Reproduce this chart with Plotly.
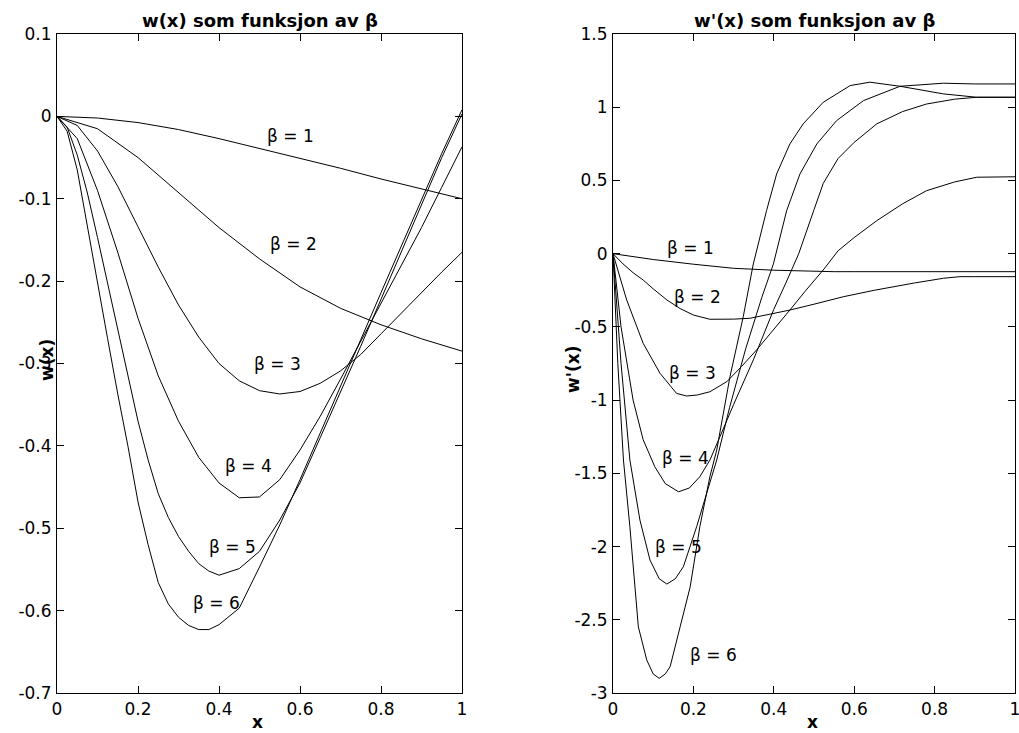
import plotly.graph_objects as go

# ---------------- data: left panel  w(x) ----------------
w_x_coarse = [0, 0.1, 0.2, 0.3, 0.4, 0.5, 0.6, 0.7, 0.8, 0.9, 1.0]
w_b1 = [0, -0.002, -0.0075, -0.016, -0.027, -0.039, -0.051, -0.063, -0.076, -0.088, -0.1]
w_b2 = [0, -0.015, -0.05, -0.093, -0.135, -0.173, -0.207, -0.233, -0.253, -0.27, -0.285]

w_x_mid = [0, 0.05, 0.1, 0.15, 0.2, 0.25, 0.3, 0.35, 0.4, 0.45, 0.5,
           0.55, 0.6, 0.65, 0.7, 0.75, 0.8, 0.85, 0.9, 0.95, 1.0]
w_b3 = [0, -0.011, -0.042, -0.085, -0.134, -0.183, -0.229, -0.268, -0.3, -0.321, -0.333,
        -0.337, -0.334, -0.324, -0.309, -0.289, -0.264, -0.239, -0.213, -0.189, -0.165]
w_b4 = [0, -0.027, -0.09, -0.165, -0.245, -0.315, -0.37, -0.414, -0.445, -0.463, -0.462,
        -0.441, -0.405, -0.364, -0.319, -0.273, -0.228, -0.181, -0.135, -0.086, -0.037]

w_x_fine = [0, 0.025, 0.05, 0.075, 0.1, 0.125, 0.15, 0.175, 0.2, 0.225, 0.25, 0.275, 0.3,
            0.325, 0.35, 0.375, 0.4, 0.45, 0.5, 0.55, 0.6, 0.65, 0.7, 0.75, 0.8, 0.85,
            0.9, 0.95, 1.0]
w_b5 = [0, -0.013, -0.047, -0.093, -0.147, -0.203, -0.261, -0.318, -0.37, -0.417, -0.458,
        -0.487, -0.51, -0.528, -0.543, -0.552, -0.557, -0.549, -0.528, -0.49, -0.445,
        -0.39, -0.335, -0.279, -0.222, -0.165, -0.108, -0.05, 0.003]
w_b6 = [0, -0.018, -0.065, -0.135, -0.2, -0.27, -0.337, -0.4, -0.468, -0.52, -0.566,
        -0.592, -0.608, -0.618, -0.623, -0.623, -0.617, -0.597, -0.547, -0.496, -0.441,
        -0.385, -0.328, -0.271, -0.214, -0.157, -0.1, -0.045, 0.008]

# ---------------- data: right panel  w'(x) ----------------
d_x1 = [0, 0.05, 0.1, 0.2, 0.3, 0.4, 0.5, 0.55, 0.6, 0.7, 0.8, 0.9, 1.0]
d_b1 = [0, -0.02, -0.04, -0.072, -0.1, -0.113, -0.121, -0.123, -0.123, -0.123, -0.123, -0.123, -0.123]

d_x2 = [0, 0.025, 0.05, 0.075, 0.1, 0.134, 0.167, 0.2, 0.241, 0.3, 0.341, 0.4, 0.44, 0.5,
        0.573, 0.65, 0.697, 0.75, 0.822, 0.863, 0.9, 1.0]
d_b2 = [0, -0.07, -0.13, -0.18, -0.24, -0.316, -0.375, -0.419, -0.448, -0.447, -0.441, -0.41,
        -0.385, -0.345, -0.294, -0.25, -0.225, -0.2, -0.168, -0.157, -0.157, -0.157]

d_x3 = [0, 0.034, 0.075, 0.117, 0.158, 0.183, 0.21, 0.241, 0.283, 0.32, 0.357, 0.4, 0.44,
        0.48, 0.523, 0.56, 0.6, 0.656, 0.72, 0.78, 0.85, 0.905, 1.0]
d_b3 = [0, -0.316, -0.612, -0.817, -0.954, -0.972, -0.965, -0.943, -0.874, -0.77, -0.658,
        -0.52, -0.385, -0.25, -0.111, 0.02, 0.11, 0.225, 0.34, 0.43, 0.49, 0.522, 0.525]

d_x4 = [0, 0.02, 0.05, 0.075, 0.104, 0.13, 0.163, 0.19, 0.216, 0.241, 0.266, 0.3, 0.35,
        0.4, 0.43, 0.462, 0.5, 0.523, 0.56, 0.6, 0.656, 0.72, 0.78, 0.85, 0.905, 1.0]
d_b4 = [0, -0.5, -1.0, -1.27, -1.455, -1.57, -1.626, -1.6, -1.523, -1.41, -1.25, -1.03,
        -0.72, -0.38, -0.2, 0.0, 0.3, 0.48, 0.65, 0.76, 0.886, 0.97, 1.022, 1.055, 1.068, 1.068]

d_x5 = [0, 0.02, 0.042, 0.067, 0.092, 0.115, 0.134, 0.155, 0.175, 0.208, 0.233, 0.258,
        0.29, 0.33, 0.37, 0.399, 0.432, 0.465, 0.507, 0.556, 0.623, 0.714, 0.822, 0.9, 1.0]
d_b5 = [0, -0.75, -1.409, -1.819, -2.092, -2.22, -2.256, -2.22, -2.138, -1.865, -1.637,
        -1.409, -1.05, -0.65, -0.3, -0.07, 0.294, 0.544, 0.749, 0.908, 1.045, 1.143, 1.164,
        1.159, 1.159]

d_x6 = [0, 0.012, 0.026, 0.042, 0.063, 0.084, 0.1, 0.115, 0.13, 0.142, 0.167, 0.192, 0.216,
        0.241, 0.258, 0.291, 0.324, 0.349, 0.382, 0.407, 0.44, 0.473, 0.523, 0.59, 0.639,
        0.714, 0.822, 0.905, 1.0]
d_b6 = [0, -0.75, -1.409, -1.865, -2.548, -2.775, -2.87, -2.9, -2.87, -2.821, -2.548,
        -2.275, -1.865, -1.523, -1.341, -0.84, -0.43, -0.07, 0.294, 0.544, 0.749, 0.886,
        1.034, 1.148, 1.171, 1.143, 1.091, 1.068, 1.068]

# ---------------- labels / ticks ----------------
beta_labels = ["β = 1", "β = 2", "β = 3", "β = 4", "β = 5", "β = 6"]
w_label_pos = [(0.514, -0.024), (0.522, -0.155), (0.481, -0.30),
               (0.411, -0.425), (0.37, -0.523), (0.33, -0.591)]
d_label_pos = [(0.129, 0.038), (0.146, -0.294), (0.135, -0.817),
               (0.117, -1.398), (0.10, -2.001), (0.187, -2.741)]

x_ticks = [0, 0.2, 0.4, 0.6, 0.8, 1]
x_ticktext = ["0", "0.2", "0.4", "0.6", "0.8", "1"]
w_ticks = [0.1, 0, -0.1, -0.2, -0.3, -0.4, -0.5, -0.6, -0.7]
w_ticktext = ["0.1", "0", "-0.1", "-0.2", "-0.3", "-0.4", "-0.5", "-0.6", "-0.7"]
d_ticks = [1.5, 1, 0.5, 0, -0.5, -1, -1.5, -2, -2.5, -3]
d_ticktext = ["1.5", "1", "0.5", "0", "-0.5", "-1", "-1.5", "-2", "-2.5", "-3"]

W, H = 1019, 733
FONT = "DejaVu Sans, Liberation Sans, Arial, sans-serif"

fig = go.Figure()
line = dict(color="black", width=1)

for xs, ys in [(w_x_coarse, w_b1), (w_x_coarse, w_b2), (w_x_mid, w_b3), (w_x_mid, w_b4),
               (w_x_fine, w_b5), (w_x_fine, w_b6)]:
    fig.add_trace(go.Scatter(x=xs, y=ys, mode="lines", line=line, xaxis="x", yaxis="y",
                             showlegend=False, hoverinfo="skip"))
for xs, ys in [(d_x1, d_b1), (d_x2, d_b2), (d_x3, d_b3), (d_x4, d_b4), (d_x5, d_b5),
               (d_x6, d_b6)]:
    fig.add_trace(go.Scatter(x=xs, y=ys, mode="lines", line=line, xaxis="x2", yaxis="y2",
                             showlegend=False, hoverinfo="skip"))

def px_x(p):
    return p / W

def px_y(p):
    return 1 - p / H

ydom = [px_y(693), px_y(34)]
axis_common = dict(showline=True, linecolor="black", linewidth=1, mirror="ticks",
                   ticks="inside", ticklen=7, tickcolor="black", tickwidth=1,
                   showgrid=False, zeroline=False, automargin=False,
                   ticklabeloverflow="allow",
                   tickfont=dict(family=FONT, size=17, color="black"))

fig.update_layout(
    width=W, height=H,
    margin=dict(l=0, r=0, t=0, b=0),
    paper_bgcolor="white", plot_bgcolor="white",
    xaxis=dict(domain=[px_x(57), px_x(462)], range=[0, 1], anchor="y",
               tickvals=x_ticks, ticktext=x_ticktext, ticklabelstandoff=1, **axis_common),
    yaxis=dict(domain=ydom, range=[-0.7, 0.1], anchor="x",
               tickvals=w_ticks, ticktext=w_ticktext, ticklabelstandoff=1, **axis_common),
    xaxis2=dict(domain=[px_x(613), px_x(1015)], range=[0, 1], anchor="y2",
                tickvals=x_ticks, ticktext=x_ticktext, ticklabelstandoff=1, **axis_common),
    yaxis2=dict(domain=ydom, range=[-3, 1.5], anchor="x2",
                tickvals=d_ticks, ticktext=d_ticktext, ticklabelstandoff=1, **axis_common),
)

ann = []
for txt, (lx, ly) in zip(beta_labels, w_label_pos):
    ann.append(dict(x=lx, y=ly, xref="x", yref="y", text=txt, showarrow=False,
                    xanchor="left", yanchor="middle",
                    font=dict(family=FONT, size=17, color="black")))
for txt, (lx, ly) in zip(beta_labels, d_label_pos):
    ann.append(dict(x=lx, y=ly, xref="x2", yref="y2", text=txt, showarrow=False,
                    xanchor="left", yanchor="middle",
                    font=dict(family=FONT, size=17, color="black")))

title_font = dict(family=FONT, size=18, color="black", weight="bold")
ann.append(dict(x=px_x(259.5), y=px_y(21), xref="paper", yref="paper",
                text="w(x) som funksjon av β", showarrow=False,
                xanchor="center", yanchor="middle", font=title_font))
ann.append(dict(x=px_x(814), y=px_y(21), xref="paper", yref="paper",
                text="w'(x) som funksjon av β", showarrow=False,
                xanchor="center", yanchor="middle", font=title_font))
lab_font = dict(family=FONT, size=17, color="black", weight="bold")
ann.append(dict(x=px_x(257), y=px_y(722), xref="paper", yref="paper", text="x",
                showarrow=False, xanchor="center", yanchor="middle", font=lab_font))
ann.append(dict(x=px_x(812), y=px_y(722), xref="paper", yref="paper", text="x",
                showarrow=False, xanchor="center", yanchor="middle", font=lab_font))
ann.append(dict(x=px_x(47), y=px_y(360), xref="paper", yref="paper", text="w(x)",
                showarrow=False, xanchor="center", yanchor="middle", textangle=-90,
                font=lab_font))
ann.append(dict(x=px_x(573), y=px_y(370), xref="paper", yref="paper", text="w'(x)",
                showarrow=False, xanchor="center", yanchor="middle", textangle=-90,
                font=lab_font))
fig.update_layout(annotations=ann)

fig.write_html("out.html", config={"displayModeBar": False},
               post_script="document.body.style.margin='0px';document.body.style.padding='0px';")
